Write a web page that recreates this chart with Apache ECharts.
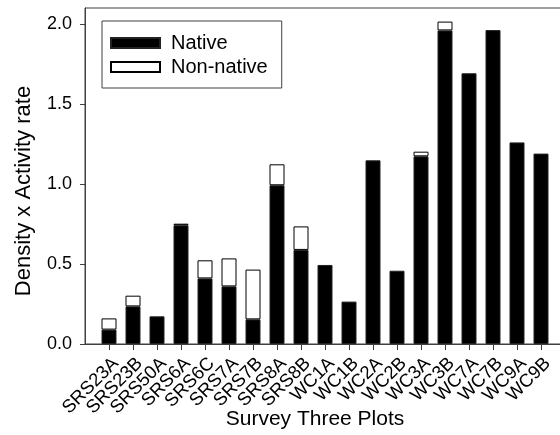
<!DOCTYPE html>
<html>
<head>
<meta charset="utf-8">
<script src="https://cdn.jsdelivr.net/npm/echarts@6/dist/echarts.min.js"></script>
<style>html,body{margin:0;padding:0;background:#fff}#c{width:560px;height:435px}</style>
</head>
<body>
<div id="c"></div>
<script>
var categories = ['SRS23A','SRS23B','SRS50A','SRS6A','SRS6C','SRS7A','SRS7B','SRS8A','SRS8B','WC1A','WC1B','WC2A','WC2B','WC3A','WC3B','WC7A','WC7B','WC9A','WC9B'];
var native = [0.09,0.235,0.173,0.742,0.41,0.36,0.154,0.992,0.588,0.494,0.265,1.148,0.458,1.173,1.96,1.692,1.962,1.26,1.19];
var nonNative = [0.07,0.067,0,0.01,0.113,0.175,0.311,0.131,0.147,0,0,0,0,0.029,0.055,0,0,0,0];
var yTicks = [0, 0.5, 1.0, 1.5, 2.0];

var FONT = 'Liberation Sans, Arial, sans-serif';
var axisCol = '#404040';
// pad the category axis with empty slots at both ends (plot frame extends beyond bars)
var cats = [''].concat(categories).concat(['']);
function pad(arr){ return [null].concat(arr.map(function(v){ return v === 0 ? null : v; })).concat([null]); }

var chart = echarts.init(document.getElementById('c'), null, {renderer:'canvas'});
chart.setOption({
  animation: false,
  backgroundColor: '#fff',
  textStyle: {fontFamily: FONT},
  grid: {left: 85, right: -5, top: 8, bottom: 91, show: true, borderColor: axisCol, borderWidth: 1,
         backgroundColor: 'transparent', containLabel: false, outerBoundsMode: 'none'},
  legend: {
    orient: 'vertical', left: 102, top: 21, icon: 'rect',
    data: ['Native','Non-native'],
    itemWidth: 49, itemHeight: 10, itemGap: 4,
    borderColor: axisCol, borderWidth: 1, padding: [12, 14, 11, 8],
    textStyle: {fontSize: 20, color: '#000', fontFamily: FONT, padding: [0,0,0,6]}
  },
  xAxis: {
    type: 'category', data: cats, boundaryGap: false,
    name: 'Survey Three Plots', nameLocation: 'middle', nameGap: 65, nameMoveOverlap: false,
    nameTextStyle: {fontSize: 21, color: '#000', fontFamily: FONT, padding: [0, 20, 0, 0]},
    axisLine: {lineStyle: {color: axisCol, width: 1}},
    axisTick: {show: true, length: 6, lineStyle: {color: axisCol}, interval: function(i){ return i > 0 && i < cats.length - 1; }},
    axisLabel: {interval: 0, rotate: 45, fontSize: 18.5, color: '#000', margin: 10, verticalAlign: 'top', fontFamily: FONT},
    splitLine: {show: false}
  },
  yAxis: {
    type: 'value', min: 0, max: 2.1, interval: 0.5,
    name: 'Density x Activity rate', nameLocation: 'middle', nameGap: 50, nameMoveOverlap: false,
    nameTextStyle: {fontSize: 22, color: '#000', fontFamily: FONT, padding: [0, 30, 0, 0]},
    axisLine: {show: true, lineStyle: {color: axisCol, width: 1}},
    axisTick: {show: true, length: 5, lineStyle: {color: axisCol}, customValues: yTicks},
    axisLabel: {fontSize: 18, color: '#000', margin: 13, fontFamily: FONT, customValues: yTicks,
      formatter: function(v){ return v.toFixed(1); }},
    splitLine: {show: false}
  },
  series: [
    {name: 'Native', type: 'bar', stack: 'total', data: pad(native), barWidth: 15,
     itemStyle: {color: '#000', borderColor: '#222', borderWidth: 1}},
    {name: 'Non-native', type: 'bar', stack: 'total', data: pad(nonNative), barWidth: 15,
     itemStyle: {color: '#fff', borderColor: '#000', borderWidth: 1}}
  ]
});
</script>
</body>
</html>
